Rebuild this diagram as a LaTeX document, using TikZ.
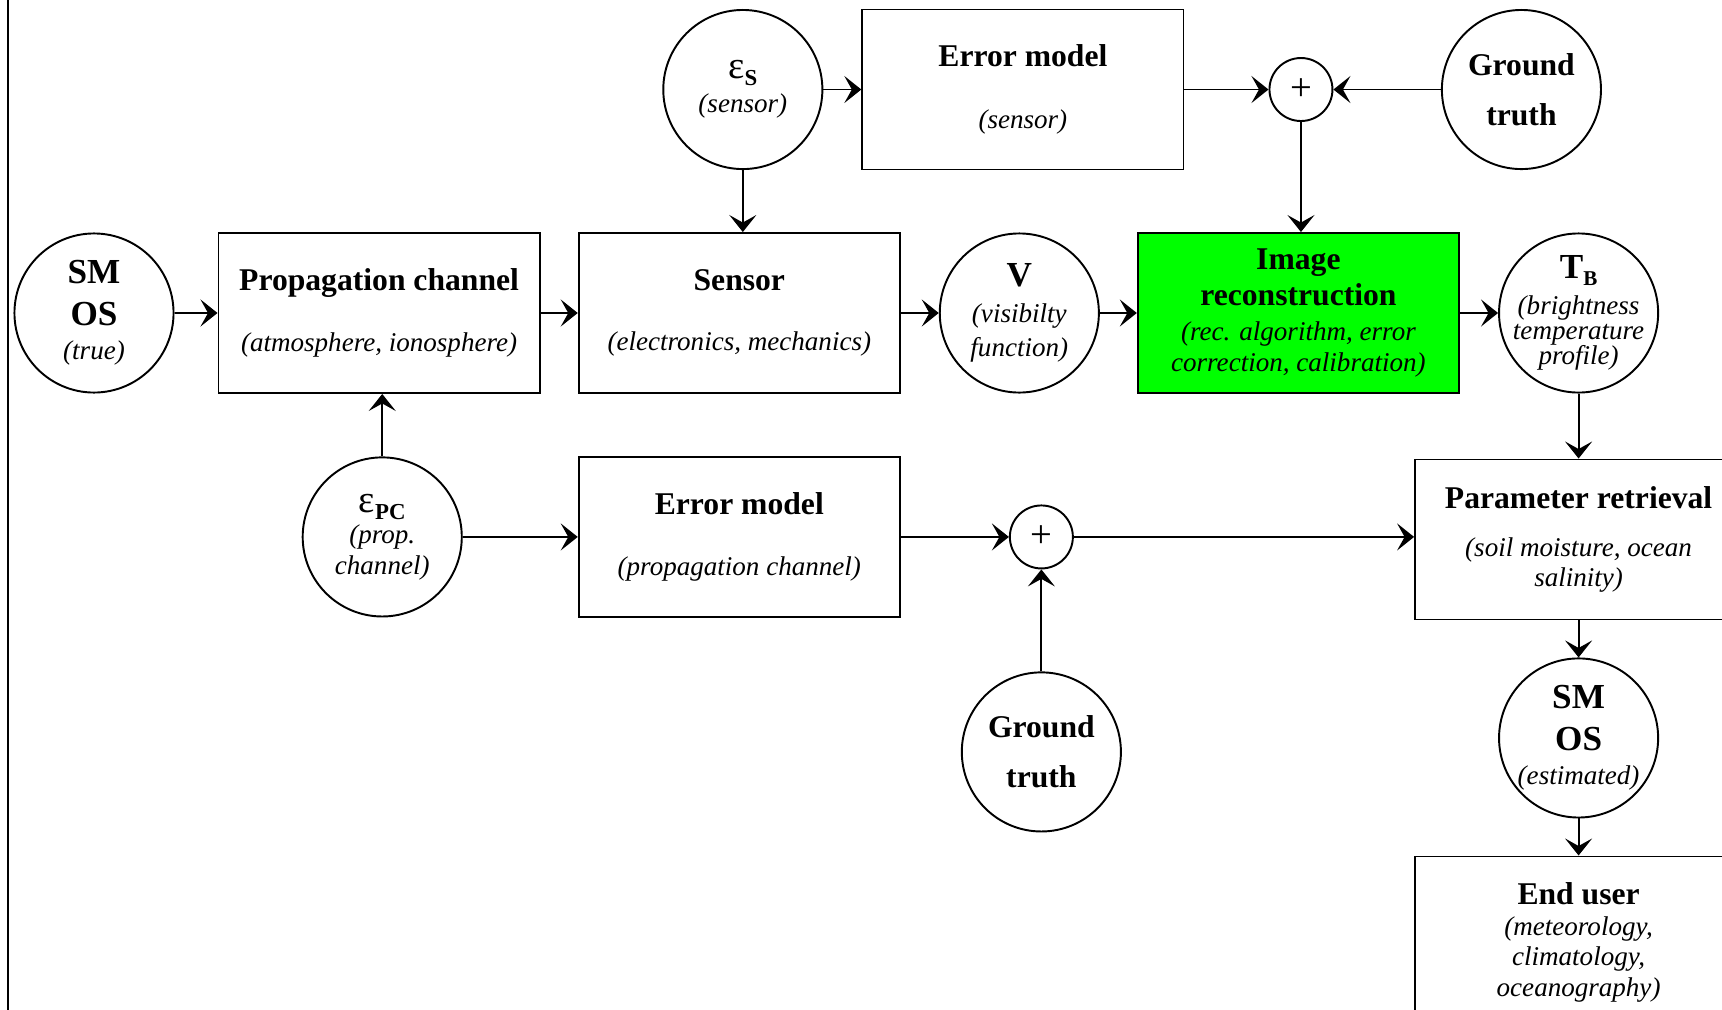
\documentclass[tikz,border=0pt]{standalone}
\usepackage{fontspec}
\setmainfont{Liberation Serif}
\usetikzlibrary{arrows.meta, positioning}

\definecolor{recgreen}{RGB}{0,255,0}
\newcommand{\boxtitle}[1]{{\bfseries\fontsize{18}{18}\selectfont #1}}
\newcommand{\bubtitle}[1]{{\bfseries\fontsize{20}{20}\selectfont #1}}
\newcommand{\aside}[1]{{\itshape #1}}
\newcommand{\errsym}[1]{{\fontsize{22}{22}\selectfont ε}\raisebox{-4pt}{\bfseries\fontsize{13}{13}\selectfont #1}}

\begin{document}
\begin{tikzpicture}[x=0.2mm, y=-0.2mm, line width=1.1pt, >={Stealth[length=3.4mm, width=5.4mm, inset=1.5mm]},
    every node/.style={font=\fontsize{15.4}{17.6}\selectfont, align=center},
    block/.style={draw, minimum width=64.24mm, minimum height=32mm, inner sep=1pt},
    bubble/.style={draw, circle, minimum size=31.82mm, inner sep=-2.5mm},
    summer/.style={draw, circle, minimum size=12.6mm, inner sep=0pt, font=\fontsize{22}{22}\selectfont}]
    \clip (0,0) rectangle (1722,1010);
    \draw[line width=1.5pt] (8,0) -- (8,1010);

    \node[bubble] (smos) at (94,313) {\bubtitle{SM}\\[6.3pt]\bubtitle{OS}\\[1.5pt]\aside{(true)}};
    \node[block] (prop) [right=8.6mm of smos] {\boxtitle{Propagation channel}\\[17pt]\aside{(atmosphere, ionosphere)}};
    \node[block] (sensor) [right=7.42mm of prop] {\boxtitle{Sensor}\\[17pt]\aside{(electronics, mechanics)}};
    \node[bubble] (vis) [right=7.58mm of sensor] {\bubtitle{V}\\[2.9pt]\aside{(visibilty}\\[1.7pt]\aside{function)}};
    \node[block, fill=recgreen] (image) [right=7.4mm of vis] {\boxtitle{Image}\\[2.4pt]\boxtitle{reconstruction}\\[2.4pt]\aside{(rec. algorithm, error}\\\aside{correction, calibration)}};
    \node[bubble] (tb) [right=7.62mm of image] {{\bfseries\fontsize{20}{20}\selectfont T\raisebox{-3.8pt}{\fontsize{12}{12}\selectfont B}}\\[2.9pt]\aside{(brightness}\\[-3.4pt]\aside{temperature}\\[-3.4pt]\aside{profile)}};

    \node[bubble] (epss) [above=12.4mm of sensor, xshift=0.7mm] {\errsym{S}\\[2pt]\aside{(sensor)}};
    \node[block] (errs) [right=7.6mm of epss] {\boxtitle{Error model}\\[17.5pt]\aside{(sensor)}};
    \node[summer] (pluss) [right=16.8mm of errs] {+};
    \node[bubble] (truths) [right=21.5mm of pluss] {\boxtitle{Ground}\\[10.9pt]\boxtitle{truth}};

    \node[block] (errpc) [below=12.4mm of sensor] {\boxtitle{Error model}\\[17pt]\aside{(propagation channel)}};
    \node[bubble] (epspc) [left=23mm of errpc] {\errsym{PC}\\\aside{(prop.}\\\aside{channel)}};
    \node[summer] (pluspc) [right=21.6mm of errpc] {+};
    \node[bubble] (truthpc) [below=20.4mm of pluspc] {\boxtitle{Ground}\\[10.9pt]\boxtitle{truth}};

    \node[block, minimum width=65.4mm] (retrieval) [below=13mm of tb] {\boxtitle{Parameter retrieval}\\[9.7pt]\aside{(soil moisture, ocean}\\\aside{salinity)}};
    \node[bubble] (smose) [below=7.4mm of retrieval] {\bubtitle{SM}\\[6.3pt]\bubtitle{OS}\\[1.5pt]\aside{(estimated)}};
    \node[block, minimum width=65.4mm, minimum height=34.4mm] (user) [below=7.4mm of smose] {\boxtitle{End user}\\\aside{(meteorology,}\\\aside{climatology,}\\\aside{oceanography)}};

    \draw[->] (smos) -- (prop);
    \draw[->] (prop) -- (sensor);
    \draw[->] (sensor) -- (vis);
    \draw[->] (vis) -- (image);
    \draw[->] (image) -- (tb);
    \draw[->] (epss) -- (errs);
    \draw[->] (epss) -- (epss |- sensor.north);
    \draw[->] (errs) -- (pluss);
    \draw[->] (truths) -- (pluss);
    \draw[->] (pluss) -- (pluss |- image.north);
    \draw[->] (epspc) -- (epspc |- prop.south);
    \draw[->] (epspc) -- (errpc);
    \draw[->] (errpc) -- (pluspc);
    \draw[->] (truthpc) -- (pluspc);
    \draw[->] (pluspc) -- (pluspc -| retrieval.west);
    \draw[->] (tb) -- (retrieval);
    \draw[->] (retrieval) -- (smose);
    \draw[->] (smose) -- (user);
\end{tikzpicture}
\end{document}
